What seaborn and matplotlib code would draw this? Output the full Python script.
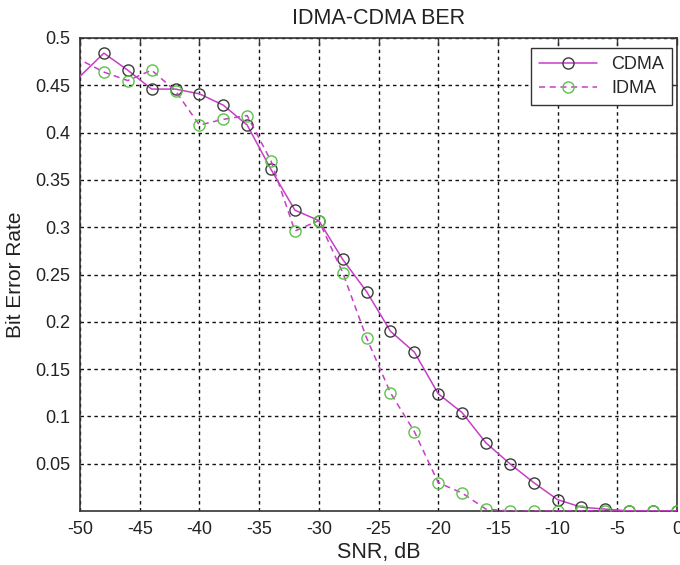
import matplotlib
matplotlib.use("Agg")
import matplotlib.pyplot as plt
import seaborn as sns
import pandas as pd

# ---- data ----
snr_db = [-52, -48, -46, -44, -42, -40, -38, -36, -34, -32, -30, -28, -26,
          -24, -22, -20, -18, -16, -14, -12, -10, -8, -6, -4, -2, 0]
cdma_ber = [0.435, 0.484, 0.466, 0.446, 0.446, 0.441, 0.429, 0.408, 0.361,
            0.318, 0.307, 0.266, 0.232, 0.190, 0.168, 0.124, 0.104, 0.072, 0.050,
            0.030, 0.012, 0.004, 0.002, 0.0, 0.0, 0.0]
idma_ber = [0.490, 0.464, 0.455, 0.466, 0.444, 0.408, 0.414, 0.418, 0.370,
            0.296, 0.307, 0.252, 0.183, 0.125, 0.084, 0.030, 0.019, 0.002, 0.0,
            0.0, 0.0, 0.0, 0.0, 0.0, 0.0, 0.0]
x_ticks = [-50, -45, -40, -35, -30, -25, -20, -15, -10, -5, 0]
y_ticks = [0.05, 0.1, 0.15, 0.2, 0.25, 0.3, 0.35, 0.4, 0.45, 0.5]
y_tick_labels = ["0.05", "0.1", "0.15", "0.2", "0.25", "0.3", "0.35", "0.4", "0.45", "0.5"]

df = pd.DataFrame({"snr": snr_db, "CDMA": cdma_ber, "IDMA": idma_ber})

sns.set_style("white")
plt.rcParams["font.family"] = ["Liberation Sans", "DejaVu Sans"]

fig = plt.figure(figsize=(6.8, 5.65), dpi=100)
ax = fig.add_axes([80 / 680, 54 / 565, 597 / 680, 473 / 565])

magenta = "#c73ec7"
sns.lineplot(data=df, x="snr", y="CDMA", ax=ax, color=magenta, linewidth=1.1,
             marker="o", markersize=8, markerfacecolor="none",
             markeredgecolor="#3a3a3a", markeredgewidth=1.0, label="CDMA",
             zorder=3)
sns.lineplot(data=df, x="snr", y="IDMA", ax=ax, color=magenta, linewidth=1.1,
             linestyle=(0, (4, 3)), marker="o", markersize=8,
             markerfacecolor="none", markeredgecolor="#5cc24a",
             markeredgewidth=1.0, label="IDMA", zorder=3)

ax.set_xlim(-50, 0)
ax.set_ylim(0, 0.5)
ax.set_xticks(x_ticks)
ax.set_xticklabels([str(t) for t in x_ticks])
ax.set_yticks(y_ticks)
ax.set_yticklabels(y_tick_labels)

ax.grid(True, color="#111111", linestyle=(0, (2.5, 2.5)), linewidth=1.0)
ax.set_axisbelow(True)

for s in ax.spines.values():
    s.set_visible(True)
    s.set_color("#333333")
    s.set_linewidth(1.2)

ax.tick_params(direction="in", length=5, width=1.0, colors="#333333",
               top=True, right=True, labelsize=13, labelcolor="#222222", pad=7)

ax.set_title("IDMA-CDMA BER", fontsize=15.5, color="#222222", pad=10)
ax.set_xlabel("SNR, dB", fontsize=15.5, color="#222222", labelpad=3)
ax.set_ylabel("Bit Error Rate", fontsize=15, color="#222222", labelpad=7)

leg = ax.legend(loc="upper right", bbox_to_anchor=(1 - 5 / 597, 1 - 10 / 473),
                borderaxespad=0, fontsize=13,
                frameon=True, fancybox=False, edgecolor="#333333",
                handlelength=3.2, borderpad=0.45, labelspacing=0.4)
leg.get_frame().set_linewidth(1.0)
leg.get_frame().set_alpha(1.0)

fig.savefig("out.png", dpi=100)
